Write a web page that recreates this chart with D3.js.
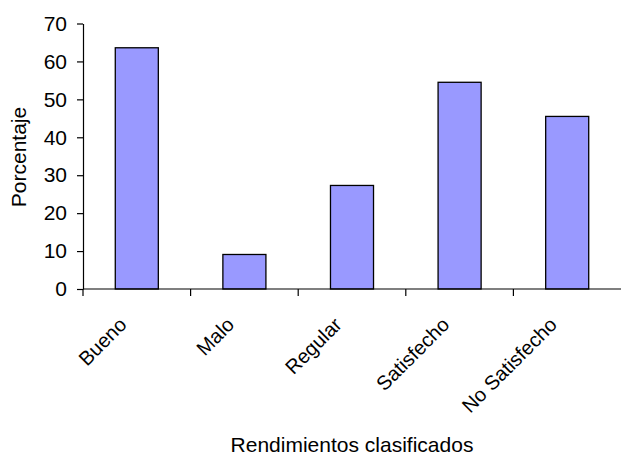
<!DOCTYPE html>
<html>
<head>
<meta charset="utf-8">
<script src="https://cdn.jsdelivr.net/npm/d3@7"></script>
<style>
  html, body { margin: 0; padding: 0; background: #fff; }
  svg { display: block; font-family: "Liberation Sans", Arial, sans-serif; }
</style>
</head>
<body>
<svg id="chart" width="622" height="455"></svg>
<script>
// Rendimientos clasificados (porcentaje)
const categories = ["Bueno", "Malo", "Regular", "Satisfecho", "No Satisfecho"];
const values = [63.6, 9.1, 27.3, 54.5, 45.5];
const yTicks = [0, 10, 20, 30, 40, 50, 60, 70];

(function () {
  const svg = d3.select("#chart");
  const plotLeft = 83, plotRight = 621, plotTop = 23.5, plotBottom = 289;

  const x = d3.scaleBand().domain(categories).range([plotLeft, plotRight]).padding(0);
  const y = d3.scaleLinear().domain([0, 70]).range([plotBottom, plotTop]);
  const barW = x.bandwidth() / 2.5;

  // Bars
  svg.append("g").selectAll("rect")
    .data(values)
    .join("rect")
    .attr("x", (d, i) => x(categories[i]) + (x.bandwidth() - barW) / 2)
    .attr("y", d => y(d))
    .attr("width", barW)
    .attr("height", d => plotBottom - y(d))
    .attr("fill", "#9999FF")
    .attr("stroke", "#000")
    .attr("stroke-width", 1.3);

  // Y axis
  const yAxis = svg.append("g")
    .attr("transform", `translate(${plotLeft},0)`)
    .call(d3.axisLeft(y).tickValues(yTicks).tickSize(6).tickSizeOuter(0).tickPadding(10));
  yAxis.select(".domain").attr("stroke", "#000").attr("stroke-width", 1.2);
  yAxis.selectAll(".tick line").attr("stroke", "#000").attr("stroke-width", 1.2);
  yAxis.selectAll(".tick text")
    .attr("font-size", 21)
    .attr("font-family", "Liberation Sans, Arial, sans-serif")
    .attr("fill", "#000");

  // X axis line with boundary ticks between categories
  svg.append("line")
    .attr("x1", plotLeft).attr("x2", plotRight)
    .attr("y1", plotBottom).attr("y2", plotBottom)
    .attr("stroke", "#000").attr("stroke-width", 1.2);
  svg.append("g").selectAll("line")
    .data(categories)
    .join("line")
    .attr("x1", d => x(d)).attr("x2", d => x(d))
    .attr("y1", plotBottom).attr("y2", plotBottom + 7)
    .attr("stroke", "#000").attr("stroke-width", 1.2);

  // Rotated category labels
  svg.append("g").selectAll("text")
    .data(categories)
    .join("text")
    .attr("transform", d => {
      const cx = x(d) + x.bandwidth() / 2 - 9;
      const cy = plotBottom + 37;
      return `translate(${cx},${cy}) rotate(-45)`;
    })
    .attr("text-anchor", "end")
    .attr("font-size", 20)
    .attr("fill", "#000")
    .text(d => d);

  // Axis titles
  svg.append("text")
    .attr("x", (plotLeft + plotRight) / 2).attr("y", 452)
    .attr("text-anchor", "middle")
    .attr("font-size", 21)
    .attr("fill", "#000")
    .text("Rendimientos clasificados");

  svg.append("text")
    .attr("transform", `translate(26,157) rotate(-90)`)
    .attr("text-anchor", "middle")
    .attr("font-size", 21)
    .attr("fill", "#000")
    .text("Porcentaje");
})();
</script>
</body>
</html>
